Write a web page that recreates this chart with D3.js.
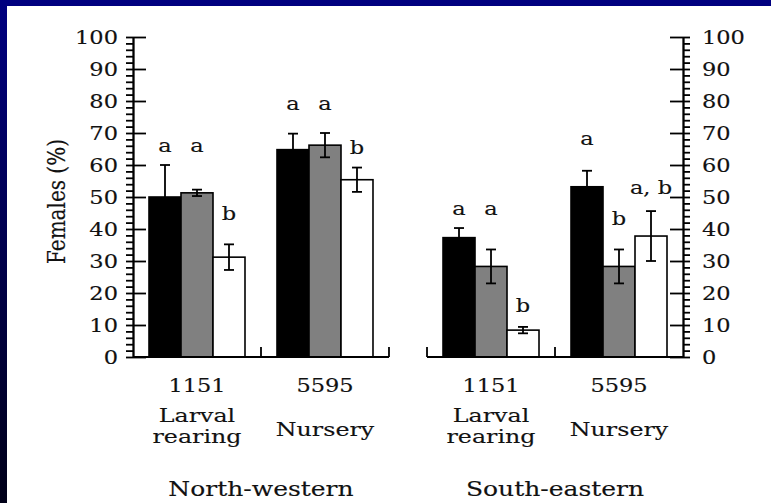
<!DOCTYPE html>
<html>
<head>
<meta charset="utf-8">
<script src="https://cdn.jsdelivr.net/npm/d3@7"></script>
<style>
  html, body { margin: 0; padding: 0; background: #000050; overflow: hidden; }
  svg { display: block; }
  text { font-family: 'DejaVu Serif', serif; fill: #111; stroke: #111; stroke-width: 0.15px; }
</style>
</head>
<body>
<script>
const width = 771;
const height = 503;

// data
const regions = ['North-western', 'South-eastern'];
const sites = ['1151', '5595'];
const siteNames = [['Larval', 'rearing'], ['Nursery']];
const series = ['first', 'second', 'third'];
const seriesColors = ['#000000', '#808080', '#ffffff'];

// means [region][site][series]
const means = [
  [[50.0, 51.3, 31.2], [64.8, 66.2, 55.4]],
  [[37.3, 28.3, 8.4], [53.2, 28.3, 37.8]],
];
const errors = [
  [[10.0, 1.0, 4.0], [5.0, 3.8, 3.8]],
  [[3.0, 5.3, 1.0], [5.0, 5.3, 7.8]],
];
// significance letters and the level (in %) where they sit
const letters = [
  [['a', 'a', 'b'], ['a', 'a', 'b']],
  [['a', 'a', 'b'], ['a', 'b', 'a, b']],
];
const letterLevels = [
  [[64.2, 64.2, 42.8], [77.2, 77.2, 63.4]],
  [[44.4, 44.4, 14.2], [66.3, 41.3, 50.9]],
];
const yMajor = d3.range(0, 101, 10);
const yMinor = d3.range(0, 101, 2);

const stretch = 1.25;

const svg = d3.select('body')
  .append('svg')
    .attr('width', width)
    .attr('height', height);

const grad = svg.append('defs')
  .append('linearGradient')
    .attr('id', 'bg')
    .attr('x1', 0).attr('y1', 0).attr('x2', 0).attr('y2', 1);
grad.append('stop').attr('offset', '0%').attr('stop-color', '#000080');
grad.append('stop').attr('offset', '100%').attr('stop-color', '#000018');

svg.append('rect')
  .attr('width', width)
  .attr('height', height)
  .attr('fill', 'url(#bg)');

svg.append('rect')
  .attr('x', 7)
  .attr('y', 6)
  .attr('width', width - 7)
  .attr('height', height - 6)
  .attr('fill', '#ffffff');

const plot = { left: 133, right: 683, top: 37, bottom: 357 };

const y = d3.scaleLinear()
  .domain([0, 100])
  .range([plot.bottom, plot.top]);

const xRegion = d3.scaleBand()
  .domain(regions)
  .range([plot.left, plot.right])
  .paddingInner(0.1293);

const xSite = d3.scaleBand()
  .domain(sites)
  .range([0, xRegion.bandwidth()]);

const xSeries = d3.scaleBand()
  .domain(series)
  .range([0, xSite.bandwidth()])
  .paddingInner(0)
  .paddingOuter(0.5);

const label = (parent, str, x, yy, size, anchor = 'middle') =>
  parent.append('text')
    .attr('transform', `translate(${x},${yy}) scale(${stretch},1)`)
    .attr('text-anchor', anchor)
    .style('font-size', size + 'px')
    .text(str);

// bars
const bars = svg.append('g').attr('class', 'bars');

regions.forEach((region, ri) => {
  const gx = xRegion(region);

  sites.forEach((site, si) => {
    const sx = gx + xSite(site);

    series.forEach((s, ki) => {
      const v = means[ri][si][ki];
      const e = errors[ri][si][ki];
      const x0 = sx + xSeries(s);
      const cx = x0 + xSeries.bandwidth() / 2;

      bars.append('rect')
        .attr('x', x0)
        .attr('y', y(v))
        .attr('width', xSeries.bandwidth())
        .attr('height', y(0) - y(v))
        .attr('fill', seriesColors[ki])
        .attr('stroke', '#000')
        .attr('stroke-width', 1.6);

      const eb = bars.append('g')
        .attr('stroke', '#000')
        .attr('stroke-width', 1.8);
      eb.append('line')
        .attr('x1', cx).attr('x2', cx)
        .attr('y1', y(v - e)).attr('y2', y(v + e));
      [v - e, v + e].forEach((t) => {
        eb.append('line')
          .attr('x1', cx - 5).attr('x2', cx + 5)
          .attr('y1', y(t)).attr('y2', y(t));
      });

      label(bars, letters[ri][si][ki], cx, y(letterLevels[ri][si][ki]), 18);
    });
  });
});

// y axes: minor ticks outside, major ticks crossing into the plot
const axes = svg.append('g').attr('class', 'axes');
const axisStyle = (g) => {
  g.selectAll('path, line').attr('stroke', '#000').attr('stroke-width', 1.8);
  g.selectAll('text').remove();
};

axes.append('g')
  .attr('transform', `translate(${plot.left},0)`)
  .call(d3.axisLeft(y).tickValues(yMinor).tickSize(7).tickSizeOuter(0).tickFormat(''))
  .call(axisStyle);
axes.append('g')
  .attr('transform', `translate(${plot.left},0)`)
  .call(d3.axisRight(y).tickValues(yMajor).tickSize(13).tickSizeOuter(0).tickFormat(''))
  .call(axisStyle);

axes.append('g')
  .attr('transform', `translate(${plot.right},0)`)
  .call(d3.axisRight(y).tickValues(yMinor).tickSize(7).tickSizeOuter(0).tickFormat(''))
  .call(axisStyle);
axes.append('g')
  .attr('transform', `translate(${plot.right},0)`)
  .call(d3.axisLeft(y).tickValues(yMajor).tickSize(13).tickSizeOuter(0).tickFormat(''))
  .call(axisStyle);

yMajor.forEach((t) => {
  label(axes, t, plot.left - 15, y(t) + 7, 18, 'end');
  label(axes, t, plot.right + 19, y(t) + 7, 18, 'start');
});

// x baselines with small upticks at the site boundaries
regions.forEach((region, ri) => {
  const gx = xRegion(region);
  const gw = xRegion.bandwidth();
  const g = axes.append('g')
    .attr('stroke', '#000')
    .attr('stroke-width', 1.8);

  g.append('line')
    .attr('x1', gx).attr('x2', gx + gw)
    .attr('y1', y(0)).attr('y2', y(0));

  const bounds = sites.map((s) => gx + xSite(s)).concat([gx + gw]);
  bounds
    .filter((b) => Math.abs(b - plot.left) > 1 && Math.abs(b - plot.right) > 1)
    .forEach((b) => {
      g.append('line')
        .attr('x1', b).attr('x2', b)
        .attr('y1', y(0)).attr('y2', y(0) - 10);
    });

  const texts = svg.append('g');
  sites.forEach((site, si) => {
    const cx = gx + xSite(site) + xSite.bandwidth() / 2;
    label(texts, site, cx, 391.5, 18);
    const lines = siteNames[si];
    const mid = lines.length > 1 ? 432 : 435.5;
    lines.forEach((ln, li) => {
      label(texts, ln, cx, mid + (li - (lines.length - 1) / 2) * 21, 19);
    });
  });

  label(texts, region, gx + gw / 2, 495.5, 20);
});

// y title
svg.append('text')
  .attr('transform', `translate(65,201.5) rotate(-90) scale(1,${stretch})`)
  .attr('text-anchor', 'middle')
  .style('font-size', '20px')
  .text('Females (%)');
</script>
</body>
</html>
